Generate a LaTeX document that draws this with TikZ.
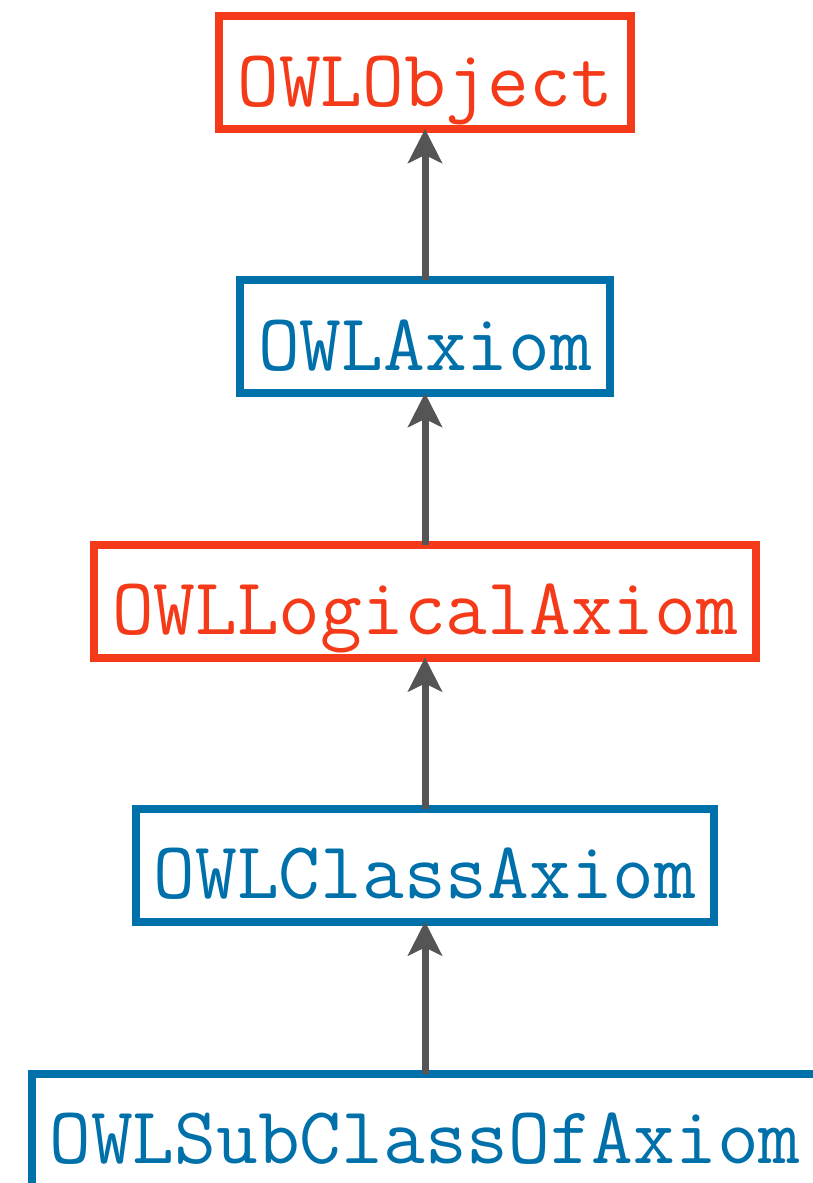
\documentclass[tikz,border=0pt]{standalone}
\usepackage{fontspec}
\usepackage{xcolor}
\usetikzlibrary{arrows.meta}
\definecolor{owlred}{RGB}{244,58,24}
\definecolor{owlblue}{RGB}{0,112,170}
\definecolor{arrowgray}{RGB}{85,85,85}

\begin{document}
\begin{tikzpicture}[x=1pt, y=1pt,
  classbox/.style={draw, line width=8pt, inner xsep=18pt, inner ysep=10pt,
    text height=80pt, text depth=13pt, font=\ttfamily\fontsize{81}{92}\selectfont},
  redbox/.style={classbox, draw=owlred, text=owlred},
  bluebox/.style={classbox, draw=owlblue, text=owlblue},
  inheritarrow/.style={-{Stealth[length=34pt, width=34pt, inset=8pt]},
    line width=7pt, draw=arrowgray, shorten >=-4pt, shorten <=-4pt}
]
  \useasboundingbox (0,0) rectangle (813,-1183);

  \node[redbox] (object) at (425,-72.5) {OWLObject};
  \node[bluebox] (axiom) at (425,-336.5) {OWLAxiom};
  \node[redbox] (logical) at (425,-601) {OWLLogicalAxiom};
  \node[bluebox] (classax) at (425,-865) {OWLClassAxiom};
  \node[bluebox] (subclass) at (425,-1130) {OWLSubClassOfAxiom};

  \draw[inheritarrow] (axiom) -- (object);
  \draw[inheritarrow] (logical) -- (axiom);
  \draw[inheritarrow] (classax) -- (logical);
  \draw[inheritarrow] (subclass) -- (classax);
\end{tikzpicture}
\end{document}
